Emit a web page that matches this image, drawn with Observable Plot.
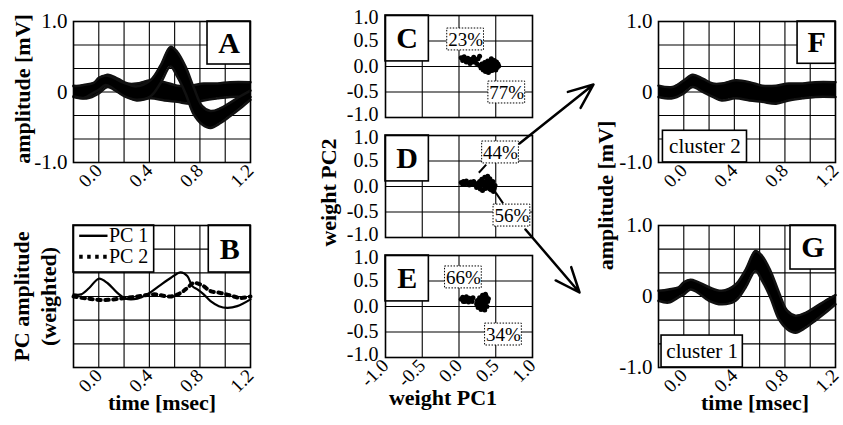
<!DOCTYPE html>
<html><head><meta charset="utf-8">
<script src="https://cdn.jsdelivr.net/npm/d3@7"></script>
<script src="https://cdn.jsdelivr.net/npm/@observablehq/plot@0.6"></script>
<style>
body{margin:0;background:#fff;}
#fig{position:relative;width:843px;height:425px;background:#fff;overflow:hidden;font-family:"Liberation Serif","Times New Roman",serif;}
#fig .p{position:absolute;}
#fig svg{overflow:visible;background:transparent;}
</style></head><body><div id="fig"></div>
<script>
// ---------- data ----------
const timeTicks = [0, 0.4, 0.8, 1.2];
const timeTickLabels = ["0.0", "0.4", "0.8", "1.2"];
const ampTicks = [1, 0, -1];
const ampTickLabels = ["1.0", "0", "-1.0"];
const weightTicks = [1, 0.5, 0, -0.5, -1];
const weightTickLabels = ["1.0", "0.5", "0.0", "-0.5", "-1.0"];
const weightXTicks = [-1, -0.5, 0, 0.5, 1];
const weightXTickLabels = ["-1.0", "-0.5", "0.0", "0.5", "1.0"];

// cluster 1 waveform envelope (mV)
const c1Time  = [-0.2,-0.12,-0.04,0,0.053,0.105,0.2,0.3,0.41,0.49,0.567,0.62,0.686,0.752,0.818,0.884,0.963,1.04,1.12,1.2];
const c1Upper = [0.08,0.1,0.13,0.2,0.235,0.21,0.13,0.08,0.17,0.38,0.64,0.57,0.36,0.06,-0.2,-0.27,-0.23,-0.15,-0.06,0.02];
const c1Lower = [-0.06,-0.085,-0.01,0.03,0.1,0.06,-0.06,-0.11,-0.06,0.13,0.36,0.22,-0.02,-0.32,-0.46,-0.51,-0.44,-0.34,-0.23,-0.11];
// cluster 2 waveform envelope (mV)
const c2Time  = [-0.2,-0.09,0,0.07,0.15,0.23,0.3,0.41,0.52,0.62,0.73,0.83,0.94,1.04,1.2];
const c2Upper = [0.09,0.07,0.165,0.245,0.19,0.12,0.12,0.165,0.14,0.09,0.09,0.12,0.12,0.14,0.14];
const c2Lower = [-0.07,-0.09,-0.02,0.07,0,-0.07,-0.12,-0.09,-0.12,-0.14,-0.165,-0.12,-0.09,-0.07,-0.07];

// principal components (weighted)
const pc1Time = [-0.2,-0.14,-0.076,0,0.068,0.147,0.213,0.305,0.384,0.476,0.568,0.647,0.7,0.74,0.78,0.83,0.884,0.95,1.016,1.095,1.2];
const pc1 = [0.03,0.03,0.12,0.25,0.19,0.05,-0.03,-0.03,0.03,0.146,0.26,0.34,0.29,0.146,0.1,0.03,-0.066,-0.136,-0.16,-0.136,-0.04];
const pc2Time = [-0.2,-0.09,0.04,0.17,0.305,0.44,0.57,0.647,0.7,0.75,0.82,0.884,0.963,1.04,1.12,1.2];
const pc2 = [0,-0.03,-0.05,-0.03,0,0.03,0,0.05,0.12,0.19,0.155,0.075,0.05,0.014,-0.02,0];
const pcLegend = ["PC 1", "PC 2"];

// weights PC1 / PC2 scatter, three recordings
const cPC1 = [0.03,0.05,0.07,0.09,0.1,0.12,0.14,0.15,0.17,0.19,0.2,0.22,0.24,0.26,0.28,
  0.28,0.3,0.31,0.33,0.34,0.35,0.36,0.37,0.38,0.39,0.4,0.41,0.42,0.43,0.44,0.45,0.46,0.47,0.48,0.49,0.5,0.51,0.52,0.53,0.54,0.36,0.4,0.44,0.48,0.42,0.38,0.46,0.33,0.5];
const cPC2 = [0.17,0.12,0.19,0.14,0.09,0.16,0.11,0.06,0.14,0.09,0.18,0.12,0.06,0.15,0.2,
  0.02,-0.03,0.05,-0.07,0.01,0.08,-0.1,-0.03,0.04,0.11,-0.12,-0.05,0.02,0.09,0.15,-0.08,-0.01,0.06,0.12,-0.04,0.03,0.09,-0.02,0.05,0.01,0.03,0.07,-0.03,0,-0.09,-0.06,0.1,0,-0.07];
const dPC1 = [0.03,0.06,0.08,0.1,0.12,0.14,0.16,0.18,0.2,0.05,
  0.22,0.24,0.25,0.27,0.28,0.29,0.3,0.31,0.32,0.33,0.34,0.35,0.36,0.37,0.38,0.39,0.4,0.41,0.42,0.43,0.44,0.45,0.46,0.47,0.48,0.49,0.35,0.3,0.38,0.42];
const dPC2 = [0.08,0.1,0.05,0.11,0.07,0.03,0.09,0.05,0.1,0.04,
  0.03,-0.02,0.06,0,0.1,-0.05,0.04,0.14,-0.08,0.02,0.09,0.18,-0.04,0.05,0.12,0.2,-0.02,0.07,0.15,0,-0.07,0.04,0.1,-0.1,-0.03,0.02,0,0.08,0.03,-0.05];
const ePC1 = [0.03,0.05,0.06,0.08,0.1,0.11,0.13,0.14,0.16,0.18,0.19,0.08,
  0.24,0.25,0.26,0.27,0.28,0.29,0.3,0.31,0.32,0.33,0.34,0.35,0.36,0.37,0.38,0.39,0.4,0.32,0.3,0.35,0.28,0.36];
const ePC2 = [0.14,0.18,0.1,0.15,0.19,0.12,0.09,0.16,0.13,0.1,0.17,0.1,
  0.05,0.12,-0.02,0.08,0.17,0.02,-0.06,0.1,0.22,0.04,-0.03,0.14,0.07,0.2,0,0.1,0.15,0.15,0.05,-0.07,0,0.24];

// cluster shares (%) for each recording
const shareText = [["23%","77%"],["44%","56%"],["66%","34%"]];
const clusterNames = ["cluster 2", "cluster 1"];
const panelLetters = ["A","B","C","D","E","F","G"];

// ---------- helpers ----------
const FONT = '"Liberation Serif","Times New Roman",serif';
const fig = document.getElementById("fig");
const zip = (t, a, b) => t.map((v, i) => ({t: v, a: a[i], b: b ? b[i] : undefined}));
const c1 = zip(c1Time, c1Lower, c1Upper);
const c2 = zip(c2Time, c2Lower, c2Upper);
const pc1Data = zip(pc1Time, pc1);
const pc2Data = zip(pc2Time, pc2);

function place(svg, left, top) {
  const d = document.createElement("div");
  d.className = "p"; d.style.left = left + "px"; d.style.top = top + "px";
  d.appendChild(svg); fig.appendChild(d);
}
function mk(o) {
  return Plot.plot({
    width: o.width, height: o.height,
    marginLeft: o.mL, marginRight: o.mR, marginTop: o.mT, marginBottom: o.mB,
    x: {domain: o.xd, range: o.xr, axis: o.xAxis ? undefined : null},
    y: {domain: o.yd, range: o.yr, axis: o.yAxis ? undefined : null},
    style: {fontFamily: FONT, fontSize: "20px", color: "black", background: "transparent", overflow: "visible"},
    marks: o.marks
  });
}
function box(x1, x2, y1, y2, label, fs, fw, dash) {
  return [
    Plot.rect([0], {x1, x2, y1, y2, fill: "white", stroke: "black", strokeWidth: dash ? 1 : 1.6, strokeDasharray: dash ? "1.5,1.5" : null}),
    Plot.text([label], {x: (x1 + x2) / 2, y: (y1 + y2) / 2, text: d => d, fontSize: fs, fontWeight: fw, fill: "black"})
  ];
}
const waveGrid = [
  Plot.gridX([0, 0.2, 0.4, 0.6, 0.8, 1.0], {stroke: "#000", strokeOpacity: 1, strokeWidth: 1.1}),
  Plot.gridY([-2/3, -1/3, 0, 1/3, 2/3], {stroke: "#000", strokeOpacity: 1, strokeWidth: 1.1})
];
const weightGrid = [
  Plot.gridX([-0.5, 0, 0.5], {stroke: "#000", strokeOpacity: 1, strokeWidth: 1.1}),
  Plot.gridY([-0.5, 0, 0.5], {stroke: "#000", strokeOpacity: 1, strokeWidth: 1.1})
];
function band(data) {
  return [
    Plot.areaY(data, {x: "t", y1: "a", y2: "b", curve: "catmull-rom", fill: "#000"}),
    Plot.line(data, {x: "t", y: "b", curve: "catmull-rom", stroke: "#111", strokeWidth: 2.5}),
    Plot.line(data, {x: "t", y: "a", curve: "catmull-rom", stroke: "#111", strokeWidth: 2.5})
  ];
}
const frame = Plot.frame({stroke: "black", strokeWidth: 1.6});
const ampAxis = Plot.axisY(ampTicks, {tickFormat: d => ampTickLabels[ampTicks.indexOf(d)], tickSize: 0, tickPadding: 6, fontSize: 21, label: null});
const timeAxis = Plot.axisX(timeTicks, {tickFormat: d => timeTickLabels[timeTicks.indexOf(d)], tickRotate: -45, tickSize: 0, tickPadding: 5, fontSize: 19, label: null});
// weight axis: end labels nudged inward so stacked panels' labels don't collide
const wFmt = d => weightTickLabels[weightTicks.indexOf(d)];
const wAxisY = [
  Plot.axisY(weightTicks.slice(1, 4), {tickFormat: wFmt, tickSize: 0, tickPadding: 7, fontSize: 20, label: null}),
  Plot.axisY([weightTicks[0]], {tickFormat: wFmt, tickSize: 0, tickPadding: 7, fontSize: 20, label: null, dy: 2}),
  Plot.axisY([weightTicks[4]], {tickFormat: wFmt, tickSize: 0, tickPadding: 7, fontSize: 20, label: null, dy: -3})
];
const wAxisX = Plot.axisX(weightXTicks, {tickFormat: d => weightXTickLabels[weightXTicks.indexOf(d)], tickRotate: -45, tickSize: 0, tickPadding: 5, fontSize: 19, label: null});
function vLabel(t, dx, dy) {
  return Plot.text([t], {frameAnchor: "left", textAnchor: "middle", dx, dy: dy || 0, rotate: -90, text: d => d, fontSize: 22, fontWeight: "bold", fill: "black"});
}
function hLabel(t, dy, dx) {
  return Plot.text([t], {frameAnchor: "bottom", textAnchor: "middle", dy, dx: dx || 0, text: d => d, fontSize: 22, fontWeight: "bold", fill: "black"});
}
const TD = [-0.2, 1.2], AD = [-1, 1], WD = [-1, 1];
const PC2_DASH = "3.5,4.5";

// ---------- panel A ----------
place(mk({width: 260, height: 210, mL: 73, mR: 10, mT: 21, mB: 48, xd: TD, yd: AD, xAxis: true, yAxis: true,
  marks: [...waveGrid, ...band(c2), ...band(c1),
    ...box(0.86, 1.2, 0.39, 1, panelLetters[0], 30, "bold"),
    frame, ampAxis, timeAxis, vLabel("amplitude [mV]", -51, -3)]}), 0, 0);

// ---------- panel B ----------
const legRows = [0.855, 0.56];
place(mk({width: 260, height: 215, mL: 73, mR: 10, mT: 15, mB: 58, xd: TD, yd: AD, xAxis: true,
  marks: [...waveGrid,
    Plot.line(pc2Data, {x: "t", y: "a", curve: "catmull-rom", stroke: "black", strokeWidth: 4, strokeDasharray: PC2_DASH}),
    Plot.line(pc1Data, {x: "t", y: "a", curve: "catmull-rom", stroke: "black", strokeWidth: 2.2}),
    Plot.rect([0], {x1: -0.2, x2: 0.438, y1: 0.338, y2: 1, fill: "white", stroke: "black", strokeWidth: 1.6}),
    Plot.link([pcLegend[0]], {x1: -0.155, x2: 0.069, y1: legRows[0], y2: legRows[0], stroke: "black", strokeWidth: 2.4}),
    Plot.link([pcLegend[1]], {x1: -0.155, x2: 0.069, y1: legRows[1], y2: legRows[1], stroke: "black", strokeWidth: 4, strokeDasharray: PC2_DASH}),
    Plot.text(pcLegend, {x: 0.08, y: (d, i) => legRows[i], text: d => d, textAnchor: "start", fontSize: 20, fill: "black"}),
    ...box(0.87, 1.2, 0.338, 1, panelLetters[1], 30, "bold"),
    frame, timeAxis,
    vLabel("PC amplitude", -52), vLabel("(weighted)", -25),
    hLabel("time [msec]", 42)]}), 0, 210);

// ---------- panels C, D, E ----------
function scatterPanel(px, py, letter, shares, extra, bottomAxis) {
  const pts = px.map((x, i) => ({x, y: py[i]}));
  return mk({width: 240, height: bottomAxis ? 185 : 125, mL: 85, mR: 8, mT: 15, mB: bottomAxis ? 68 : 8,
    xd: WD, yd: WD, xAxis: bottomAxis, yAxis: true,
    marks: [...weightGrid,
      ...box(-1, -0.41, 0.1, 1, letter, 30, "bold"),
      ...(extra || []),
      Plot.dot(pts, {x: "x", y: "y", r: 2.5, fill: "black"}),
      ...box(shares.pos[0][0] - 0.25, shares.pos[0][0] + 0.25, shares.pos[0][1] - 0.215, shares.pos[0][1] + 0.215, shares.text[0], 19, "normal", true),
      ...box(shares.pos[1][0] - 0.25, shares.pos[1][0] + 0.25, shares.pos[1][1] - 0.215, shares.pos[1][1] + 0.215, shares.text[1], 19, "normal", true),
      frame, ...wAxisY, ...(bottomAxis ? [wAxisX, hLabel("weight PC1", 47, -16)] : [])]
  });
}
place(scatterPanel(cPC1, cPC2, panelLetters[2], {text: shareText[0], pos: [[0.09, 0.53], [0.65, -0.51]]}), 300, 0);
const dLeaders = [{a: [0.27, 0.27], b: [0.37, 0.43]}, {a: [0.5, -0.12], b: [0.6, -0.33]}];
place(scatterPanel(dPC1, dPC2, panelLetters[3], {text: shareText[1], pos: [[0.565, 0.667], [0.72, -0.57]]},
  [Plot.link(dLeaders, {x1: d => d.a[0], y1: d => d.a[1], x2: d => d.b[0], y2: d => d.b[1], stroke: "black", strokeWidth: 2}),
   vLabel("weight PC2", -57, 6)]), 300, 120);
place(scatterPanel(ePC1, ePC2, panelLetters[4], {text: shareText[2], pos: [[0.06, 0.57], [0.605, -0.55]]}, null, true), 300, 240);

// ---------- panel F ----------
place(mk({width: 263, height: 210, mL: 78, mR: 8, mT: 21, mB: 48, xd: TD, yd: AD, xAxis: true, yAxis: true,
  marks: [...waveGrid, ...band(c2),
    ...box(0.9, 1.2, 0.4, 1, panelLetters[5], 30, "bold"),
    ...box(-0.165, 0.5, -1, -0.55, clusterNames[0], 21, "normal"),
    frame, ampAxis, timeAxis]}), 580, 0);

// ---------- panel G ----------
place(mk({width: 263, height: 215, mL: 78, mR: 8, mT: 15, mB: 58, xd: TD, yd: AD, xAxis: true, yAxis: true,
  marks: [...waveGrid, ...band(c1),
    ...box(0.844, 1.2, 0.38, 1, panelLetters[6], 30, "bold"),
    ...box(-0.176, 0.467, -1, -0.55, clusterNames[1], 21, "normal"),
    frame, ampAxis, timeAxis,
    vLabel("amplitude [mV]", -53, -101),
    hLabel("time [msec]", 42, 8)]}), 580, 210);

// ---------- arrows between panels (page pixel space) ----------
const arrows = [{x1: 519, y1: 143, x2: 593, y2: 84}, {x1: 525, y1: 229, x2: 579, y2: 292}];
place(mk({width: 843, height: 425, mL: 0, mR: 0, mT: 0, mB: 0, xd: [0, 843], xr: [0, 843], yd: [0, 425], yr: [0, 425],
  marks: [Plot.arrow(arrows, {x1: "x1", y1: "y1", x2: "x2", y2: "y2", stroke: "black", strokeWidth: 2.5, headLength: 16, headAngle: 45})]}), 0, 0);
</script></body></html>
